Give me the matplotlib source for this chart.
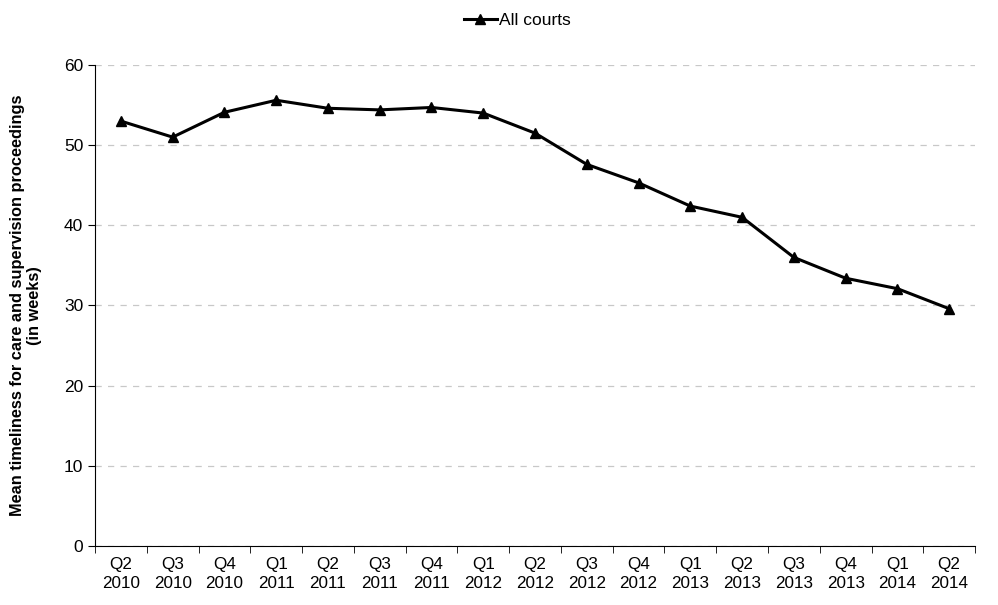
import matplotlib.pyplot as plt
import numpy as np

plt.rcParams['font.family'] = ['Liberation Sans', 'DejaVu Sans']

quarters = ['Q2\n2010', 'Q3\n2010', 'Q4\n2010', 'Q1\n2011', 'Q2\n2011', 'Q3\n2011',
            'Q4\n2011', 'Q1\n2012', 'Q2\n2012', 'Q3\n2012', 'Q4\n2012', 'Q1\n2013',
            'Q2\n2013', 'Q3\n2013', 'Q4\n2013', 'Q1\n2014', 'Q2\n2014']
all_courts = [53.0, 51.0, 54.1, 55.6, 54.6, 54.4, 54.7, 54.0, 51.5, 47.6,
              45.3, 42.4, 41.0, 36.0, 33.4, 32.1, 29.6]

fig = plt.figure(figsize=(9.98, 6.05), dpi=100)
ax = fig.add_axes([0.0952, 0.0975, 0.8818, 0.7951])

x = np.arange(len(quarters))
ax.plot(x, all_courts, color='black', lw=2.2, marker='^', ms=7.5, label='All courts')

ax.set_xlim(-0.5, len(quarters) - 0.5)
ax.set_ylim(0, 60)
ax.set_yticks(range(0, 61, 10))
ax.set_xticks(x)
ax.set_xticklabels(quarters, fontsize=12.3, linespacing=1.3)
ax.set_xticks(np.arange(-0.5, len(quarters), 1), minor=True)
ax.tick_params(axis='x', which='major', length=0, pad=8)
ax.tick_params(axis='x', which='minor', length=5, direction='out')
ax.tick_params(axis='y', labelsize=12.5, length=5)
ax.yaxis.grid(True, color='#c8c8c8', linestyle=(0, (5, 5)), lw=0.9)
ax.set_axisbelow(True)
for s in ['top', 'right']:
    ax.spines[s].set_visible(False)

ax.set_ylabel('Mean timeliness for care and supervision proceedings\n(in weeks)',
              fontsize=11.8, fontweight='bold', labelpad=16, linespacing=1.1)

ax.legend(loc='upper center', bbox_to_anchor=(0.48, 1.14), frameon=False,
          fontsize=12.5, handlelength=1.9, handletextpad=0.15, markerscale=0.9)

fig.savefig('out.png', dpi=100)
